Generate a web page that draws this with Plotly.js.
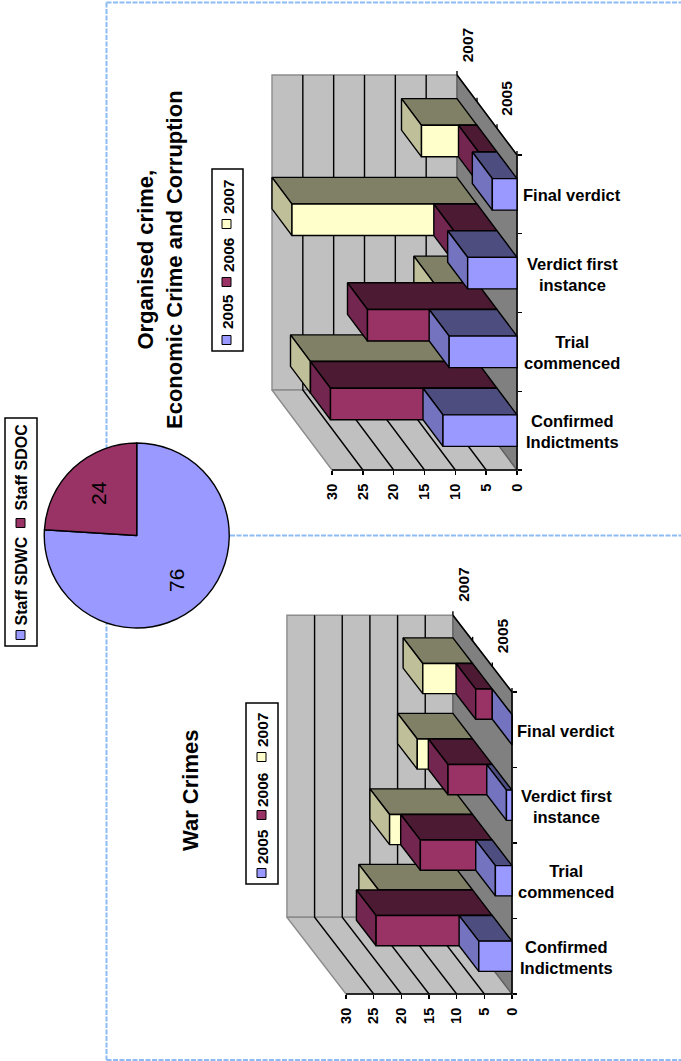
<!DOCTYPE html>
<html><head><meta charset="utf-8">
<script src="https://cdn.plot.ly/plotly-3.0.1.min.js"></script>
<style>html,body{margin:0;padding:0;background:#fff}</style>
</head><body><div id="chart" style="width:681px;height:1061px"></div>
<script>
const categories = ["Final verdict", "Verdict first<br>instance", "Trial<br>commenced", "Confirmed<br>Indictments"];
const years = ["2005", "2006", "2007"];
const valueTicks = [0, 5, 10, 15, 20, 25, 30];

const orgCrime2005 = [4, 8, 11, 12];
const orgCrime2006 = [3, 7, 21, 27];
const orgCrime2007 = [9, 30, 7, 27];

const warCrimes2005 = [0, 1, 3, 6];
const warCrimes2006 = [3, 8, 13, 21];
const warCrimes2007 = [9, 10, 15, 17];

const staffLabels = ["Staff SDWC", "Staff SDOC"];
const staffValues = [76, 24];

const FRONT = ["#9999FF", "#993366", "#FFFFCC"];
const CAP   = ["#7373BF", "#732650", "#BFBF99"];
const TOP   = ["#4D4D80", "#4D1A33", "#808066"];
const FONT = "Liberation Sans";
const W = 681, H = 1061;
const px = x => x / W, py = y => 1 - y / H;

const traces = [], shapes = [], annotations = [], layout = {};

function poly(ax, pts, fill, lineColor, lw) {
  const closed = pts.concat([pts[0]]);
  traces.push({type:"scatter", mode:"lines", xaxis:ax.x, yaxis:ax.y,
    x: closed.map(p => p[0]), y: closed.map(p => p[1]),
    fill:"toself", fillcolor:fill, line:{color:lineColor, width:lw},
    hoverinfo:"skip", showlegend:false});
}
function path(ax, pts, color, lw) {
  traces.push({type:"scatter", mode:"lines", xaxis:ax.x, yaxis:ax.y,
    x: pts.map(p => p[0]), y: pts.map(p => p[1]),
    line:{color:color, width:lw}, hoverinfo:"skip", showlegend:false});
}
function note(o) {
  annotations.push(Object.assign({showarrow:false, xanchor:"center", yanchor:"middle", align:"center"}, o));
}

function chart3d(cfg) {
  const ax = {x:cfg.x, y:cfg.y};
  const P = (v, c, d) => [v + d * cfg.dv, c - d * cfg.dc];
  const vMax = 30, nCat = categories.length, D = 3;

  // axes
  const sx = cfg.pxPerValue, sy = cfg.pxPerCat;
  const xName = cfg.x === "x" ? "xaxis" : "xaxis2", yName = cfg.y === "y" ? "yaxis" : "yaxis2";
  layout[xName] = {domain:[0,1], range:[cfg.x0 / sx, (cfg.x0 - W) / sx], anchor:"free", position:py(cfg.yBottom),
    tickmode:"array", tickvals:valueTicks, ticktext:valueTicks.map(String), tickangle:-90,
    ticks:"outside", ticklen:4, tickcolor:"#000", tickwidth:1.4, showgrid:false, zeroline:false, showline:false,
    tickfont:{family:FONT, size:14.5, color:"#000", weight:"bold"}, ticklabelstandoff:3};
  layout[yName] = {domain:[py(cfg.pxB), py(cfg.pxA)], range:[(cfg.pxB - cfg.yTop) / sy, (cfg.pxA - cfg.yTop) / sy],
    anchor:"free", position:px(cfg.x0), side:"right",
    tickmode:"array", tickvals:[0,1,2,3,4], showticklabels:false,
    ticks:"outside", ticklen:4, tickcolor:"#000", tickwidth:1.4, showgrid:false, zeroline:false, showline:false};

  // walls
  poly(ax, [P(0,0,D),P(vMax,0,D),P(vMax,nCat,D),P(0,nCat,D)], "#C0C0C0", "#8c8c8c", 1.4);
  poly(ax, [P(0,nCat,D),P(vMax,nCat,D),P(vMax,nCat,0),P(0,nCat,0)], "#C0C0C0", "#8c8c8c", 1.4);
  poly(ax, [P(0,0,D),P(0,nCat,D),P(0,nCat,0),P(0,0,0)], "#808080", "#606060", 1.4);
  valueTicks.slice(1, -1).forEach(v => path(ax, [P(v,0,D),P(v,nCat,D),P(v,nCat,0)], "#000", 1.4));
  // axis lines and depth ticks
  path(ax, [P(0,0,D),P(0,0,0),P(0,nCat,0),P(vMax,nCat,0)], "#000", 1.5);
  [0,1,2,3].forEach(d => { const a = P(0,0,d); path(ax, [a, [a[0], a[1] - 4 / sy]], "#000", 1.4); });

  // bars, back series first
  [2,1,0].forEach(s => cfg.series[s].forEach((v, i) => {
    const c0 = i + 0.5 - 0.2, c1 = i + 0.5 + 0.2, d0 = s, d1 = s + 1;
    poly(ax, [P(0,c0,d0),P(v,c0,d0),P(v,c0,d1),P(0,c0,d1)], TOP[s], "#000", 1.4);
    poly(ax, [P(v,c0,d0),P(v,c0,d1),P(v,c1,d1),P(v,c1,d0)], CAP[s], "#000", 1.4);
    poly(ax, [P(0,c0,d0),P(v,c0,d0),P(v,c1,d0),P(0,c1,d0)], FRONT[s], "#000", 1.4);
  }));

  // category labels
  categories.forEach((t, i) => note({xref:cfg.x, yref:cfg.y, x:0, y:i + 0.5, xshift:cfg.labelShift, yshift:-1, text:t,
    font:{family:FONT, size:16.5, color:"#000", weight:"bold"}}));

  // depth labels
  [[0, years[0]], [2, years[2]]].forEach(([s, t]) => { const a = P(0, 0, s + 0.5);
    note({xref:cfg.x, yref:cfg.y, x:a[0], y:a[1], yshift:43, text:t, textangle:-90,
      font:{family:FONT, size:15.5, color:"#000", weight:"bold"}}); });

  // legend
  const L = cfg.legend;
  shapes.push({type:"rect", xref:"paper", yref:"paper", x0:px(L.x0), x1:px(L.x1), y0:py(L.y0), y1:py(L.y1),
    line:{color:"#000", width:1.5}, fillcolor:"#fff"});
  years.forEach((t, s) => {
    shapes.push({type:"rect", xref:"paper", yref:"paper", x0:px(L.sx), x1:px(L.sx + 9), y0:py(L.sw[s] - 4.5), y1:py(L.sw[s] + 4.5),
      line:{color:"#000", width:1}, fillcolor:FRONT[s]});
    note({xref:"paper", yref:"paper", x:px(L.tx), y:py(L.ty[s]), text:t, textangle:-90,
      font:{family:FONT, size:15.5, color:"#000", weight:"bold"}});
  });
}

chart3d({x:"x", y:"y", x0:517, yTop:155, yBottom:470, pxPerValue:6.167, pxPerCat:78.75, pxA:0, pxB:530,
  dv:3.243, dc:0.3386, labelShift:55,
  series:[orgCrime2005, orgCrime2006, orgCrime2007],
  legend:{x0:212, x1:243, y0:169, y1:351, sx:222, sw:[340,282,224], tx:228, ty:[312,255,197]}});
chart3d({x:"x2", y:"y2", x0:512, yTop:692, yBottom:994, pxPerValue:5.533, pxPerCat:75.5, pxA:531, pxB:1061,
  dv:3.56, dc:0.339, labelShift:54,
  series:[warCrimes2005, warCrimes2006, warCrimes2007],
  legend:{x0:246, x1:278, y0:703, y1:884, sx:257, sw:[873,815,757], tx:262, ty:[847,790,730]}});

// pie
traces.push({type:"pie", labels:staffLabels, values:staffValues, sort:false, direction:"clockwise", rotation:0,
  marker:{colors:[FRONT[0], FRONT[1]], line:{color:"#000", width:1.4}}, textinfo:"none", hoverinfo:"skip", showlegend:false,
  domain:{x:[px(44), px(229.5)], y:[py(628), py(443)]}});
[[176,581],[98,493]].forEach(([x,y], i) => note({xref:"paper", yref:"paper", x:px(x), y:py(y), text:String(staffValues[i]),
  textangle:-90, font:{family:FONT, size:21, color:"#000"}}));
shapes.push({type:"rect", xref:"paper", yref:"paper", x0:px(5), x1:px(37), y0:py(418), y1:py(646), line:{color:"#000", width:1.5}, fillcolor:"#fff"});
[[635,581],[523,467]].forEach(([sy,ty], i) => {
  shapes.push({type:"rect", xref:"paper", yref:"paper", x0:px(16), x1:px(25), y0:py(sy-4.5), y1:py(sy+4.5), line:{color:"#000", width:1}, fillcolor:FRONT[i]});
  note({xref:"paper", yref:"paper", x:px(20.5), y:py(ty), text:staffLabels[i], textangle:-90,
    font:{family:FONT, size:16, color:"#000", weight:"bold"}});
});

// titles
note({xref:"paper", yref:"paper", x:px(160), y:py(260), text:"Organised crime,<br>Economic Crime and Corruption", textangle:-90,
  font:{family:FONT, size:22, color:"#000", weight:"bold"}});
note({xref:"paper", yref:"paper", x:px(190), y:py(791), text:"War Crimes", textangle:-90,
  font:{family:FONT, size:22, color:"#000", weight:"bold"}});

// dashed page frame
const frame = {color:"#8DBBF3", width:2, dash:"5px,1.5px"};
[[106.5,2.5,106.5,1060],[106.5,2.5,681,2.5],[106.5,1060,681,1060],[230,535.5,681,535.5]].forEach(([a,b,c,d]) =>
  shapes.push({type:"line", xref:"paper", yref:"paper", x0:px(a), y0:py(b), x1:px(c), y1:py(d), line:frame, layer:"below"}));

Object.assign(layout, {width:W, height:H, margin:{l:0,r:0,t:0,b:0}, paper_bgcolor:"#fff", plot_bgcolor:"rgba(0,0,0,0)",
  showlegend:false, shapes, annotations, hovermode:false});
Plotly.newPlot("chart", traces, layout, {displayModeBar:false, staticPlot:true});
</script></body></html>
